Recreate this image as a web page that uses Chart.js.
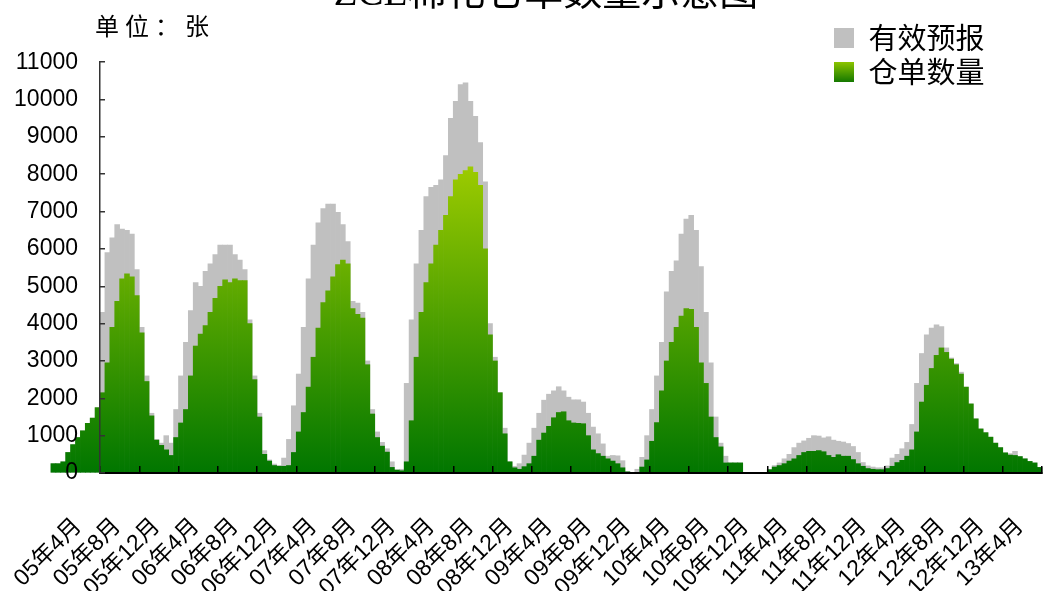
<!DOCTYPE html>
<html>
<head>
<meta charset="utf-8">
<title>ZCE棉花仓单数量示意图</title>
<script src="https://cdn.jsdelivr.net/npm/chart.js@4/dist/chart.umd.min.js"></script>
<style>
  html, body { margin: 0; padding: 0; background: #fff; }
  #wrap { width: 1043px; height: 591px; }
</style>
</head>
<body>
<div id="wrap"><canvas id="myChart"></canvas></div>
<script>
// half-month bars from Nov 2004 to Mar 2013, 10 bars come before 05年4月
const tickLabels = [
  "05年4月", "05年8月", "05年12月", "06年4月", "06年8月", "06年12月",
  "07年4月", "07年8月", "07年12月", "08年4月", "08年8月", "08年12月",
  "09年4月", "09年8月", "09年12月", "10年4月", "10年8月", "10年12月",
  "11年4月", "11年8月", "11年12月", "12年4月", "12年8月", "12年12月",
  "13年4月",
];

// 仓单数量 (green)
const warrants = [
  250, 250, 300, 550, 760, 950, 1130, 1330, 1470, 1750,
  2150, 2950, 3900, 4600, 5200, 5330, 5250, 4750, 3750, 2450,
  1530, 880, 740, 620, 470, 950, 1340, 1700, 2600, 3400,
  3720, 3950, 4300, 4680, 5000, 5170, 5100, 5200, 5150, 5150,
  4000, 2500, 1500, 500, 320, 200, 180, 180, 200, 550,
  1100, 1620, 2300, 3100, 3880, 4560, 4880, 5250, 5580, 5700,
  5600, 4400, 4250, 4150, 2900, 1580, 950, 720, 560, 150,
  80, 60, 300, 1400, 3100, 4300, 5100, 5600, 6100, 6500,
  6900, 7400, 7850, 8000, 8100, 8200, 8050, 7700, 6000, 3700,
  3000, 2150, 1050, 300, 140, 100, 170, 250, 450, 880,
  1070, 1250, 1480, 1620, 1640, 1400, 1340, 1330, 1320, 1000,
  620, 520, 450, 380, 320, 250, 140, 30, 0, 0,
  160, 350, 850, 1350, 2200, 3000, 3500, 3900, 4200, 4400,
  4380, 3900, 2950, 2400, 1500, 950, 700, 270, 270, 270,
  270, 0, 0, 0, 0, 0, 90, 160, 200, 250,
  320, 380, 470, 550, 580, 580, 600, 570, 470, 420,
  490, 450, 450, 360, 250, 180, 120, 100, 90, 90,
  120, 180, 280, 340, 450, 620, 1100, 1900, 2350, 2800,
  3150, 3350, 3230, 3050, 2900, 2650, 2300, 1850, 1450, 1180,
  1080, 960, 800, 680, 540, 480, 470, 440, 380, 310,
  270, 150,
];

// 仓单 + 有效预报 (grey top)
const withForecast = [
  250, 250, 300, 550, 760, 950, 1130, 1330, 1470, 1750,
  4300, 5900, 6300, 6650, 6530, 6500, 6400, 5450, 3900, 2600,
  1600, 900, 800, 1000, 800, 1700, 2600, 3500, 4350, 5100,
  5000, 5400, 5600, 5850, 6100, 6100, 6100, 5850, 5700, 5450,
  4100, 2600, 1600, 600, 350, 240, 200, 400, 900, 1800,
  2650, 3900, 5200, 6100, 6700, 7080, 7200, 7200, 6980, 6650,
  6200, 4600, 4550, 4300, 3000, 1700, 1100, 820, 650, 300,
  80, 100, 2400, 4100, 5600, 6500, 7400, 7650, 7700, 7850,
  8500, 9500, 9950, 10400, 10450, 9950, 9550, 8850, 7800, 4000,
  3100, 2150, 1200, 300, 180, 250, 480, 800, 1200, 1600,
  1950, 2110, 2200, 2310, 2200, 2030, 1960, 1960, 1900, 1600,
  1230, 1050, 780, 450, 470, 460, 330, 40, 0, 100,
  420, 1000, 1700, 2600, 3500, 4850, 5400, 5680, 6400, 6800,
  6900, 6500, 5530, 4300, 2950, 1500, 800, 450, 270, 270,
  270, 0, 0, 0, 0, 0, 90, 200, 270, 380,
  500, 680, 800, 860, 930, 1000, 990, 940, 970, 880,
  850, 830, 790, 710, 550, 280, 190, 160, 140, 140,
  190, 400, 500, 650, 820, 1300, 2400, 3200, 3700, 3880,
  3970, 3920, 3350, 3080, 2930, 2700, 2300, 1850, 1450, 1180,
  1080, 960, 800, 680, 540, 520, 580, 440, 380, 310,
  270, 150,
];

const firstTick = 10;  // bar index where 05年4月 starts
const barsPerTick = 8; // 4 months of half-month bars

const CJK = "'Noto Sans CJK SC', sans-serif";
const SANS = "'Liberation Sans', 'Noto Sans CJK SC', sans-serif";

// green gets lighter the higher it goes
function greenFill(context) {
  const chart = context.chart;
  if (!chart.chartArea) return "rgb(60,140,0)";
  const y = chart.scales.y;
  const g = chart.ctx.createLinearGradient(0, y.getPixelForValue(0), 0, y.getPixelForValue(8400));
  g.addColorStop(0, "rgb(0,118,0)");
  g.addColorStop(1, "rgb(160,205,0)");
  return g;
}

// legend sits over the top right corner of the plot
const legendSpot = {
  id: "legendSpot",
  afterLayout(chart) {
    const lg = chart.legend;
    lg.left = 829;
    lg.top = 18.5;
    lg.right = lg.left + lg.width;
    lg.bottom = lg.top + 100;
  },
};

const unitLabel = {
  id: "unitLabel",
  afterDraw(chart) {
    const ctx = chart.ctx;
    ctx.save();
    ctx.font = "24px " + CJK;
    ctx.fillStyle = "#000";
    ctx.textBaseline = "middle";
    if ("letterSpacing" in ctx) ctx.letterSpacing = "6px";
    ctx.fillText("单位：张", chart.chartArea.left - 5, chart.chartArea.top - 36);
    ctx.restore();
  },
};

document.addEventListener("DOMContentLoaded", chart);

function chart() {
  const ctx = document.getElementById("myChart");

  new Chart(ctx, {
    type: "bar",
    data: {
      datasets: [
        {
          label: "仓单数量",
          data: warrants.map((v, i) => ({ x: i + 0.5, y: v })),
          backgroundColor: greenFill,
          order: 0,
          clip: false,
        },
        {
          label: "有效预报",
          data: withForecast.map((v, i) => ({ x: i + 0.5, y: v })),
          backgroundColor: "#c0c0c0",
          order: 1,
          clip: false,
        },
      ],
    },
    options: {
      responsive: true,
      maintainAspectRatio: false,
      animation: false,
      devicePixelRatio: 1,
      layout: { padding: { left: 50, right: 1, top: 0, bottom: 0 } },
      datasets: {
        bar: { grouped: false, barPercentage: 1, categoryPercentage: 1, borderWidth: 0 },
      },
      plugins: {
        tooltip: { enabled: false },
        title: {
          display: true,
          text: "ZCE棉花仓单数量示意图",
          color: "#000",
          font: { family: "'Liberation Serif', 'Noto Sans CJK SC', serif", size: 39, weight: "normal" },
          padding: { top: -28.4, bottom: 43.8 },
        },
        legend: {
          position: "chartArea",
          align: "start",
          labels: {
            boxWidth: 20,
            boxHeight: 20,
            padding: 5,
            color: "#000",
            font: { family: CJK, size: 29 },
            generateLabels(chart) {
              const g = chart.ctx.createLinearGradient(0, 62, 0, 82);
              g.addColorStop(0, "rgb(140,196,0)");
              g.addColorStop(1, "rgb(20,120,0)");
              return [
                { text: "有效预报", fillStyle: "#c0c0c0", strokeStyle: "#c0c0c0", lineWidth: 0, fontColor: "#000", datasetIndex: 1 },
                { text: "仓单数量", fillStyle: g, strokeStyle: "#2a8a00", lineWidth: 0, fontColor: "#000", datasetIndex: 0 },
              ];
            },
          },
        },
      },
      scales: {
        x: {
          type: "linear",
          bounds: "data",
          min: firstTick,
          max: firstTick + barsPerTick * (tickLabels.length - 1),
          offset: false,
          afterBuildTicks(axis) {
            axis.ticks = tickLabels.map((_, k) => ({ value: firstTick + barsPerTick * k }));
          },
          afterFit(axis) {
            axis.height = 118;
            axis.paddingLeft = 0;
            axis.paddingRight = 0;
          },
          ticks: {
            z: 1,
            autoSkip: false,
            minRotation: 45,
            maxRotation: 45,
            padding: 47,
            labelOffset: -22,
            color: "#000",
            font: { family: SANS, size: 23 },
            callback: (v) => tickLabels[Math.round((v - firstTick) / barsPerTick)],
          },
          grid: { z: 1, drawOnChartArea: false, offset: false, tickLength: -7, color: "#000", lineWidth: 1.5 },
          border: { z: 1, color: "#000", width: 2 },
        },
        y: {
          min: 0,
          max: 11000,
          afterFit(axis) {
            axis.width = 50;
            // labels hang out into the left padding, so don't clip them to the axis box
            axis._computeLabelArea = () => null;
          },
          ticks: {
            z: 1,
            stepSize: 1000,
            padding: 27,
            color: "#000",
            font: { family: SANS, size: 23 },
            callback: (v) => String(v),
          },
          grid: { z: 1, drawOnChartArea: false, tickLength: -5, color: "#333", lineWidth: 1.5 },
          border: { z: 1, color: "#333", width: 1.5 },
        },
      },
    },
    plugins: [legendSpot, unitLabel],
  });
}
</script>
</body>
</html>
